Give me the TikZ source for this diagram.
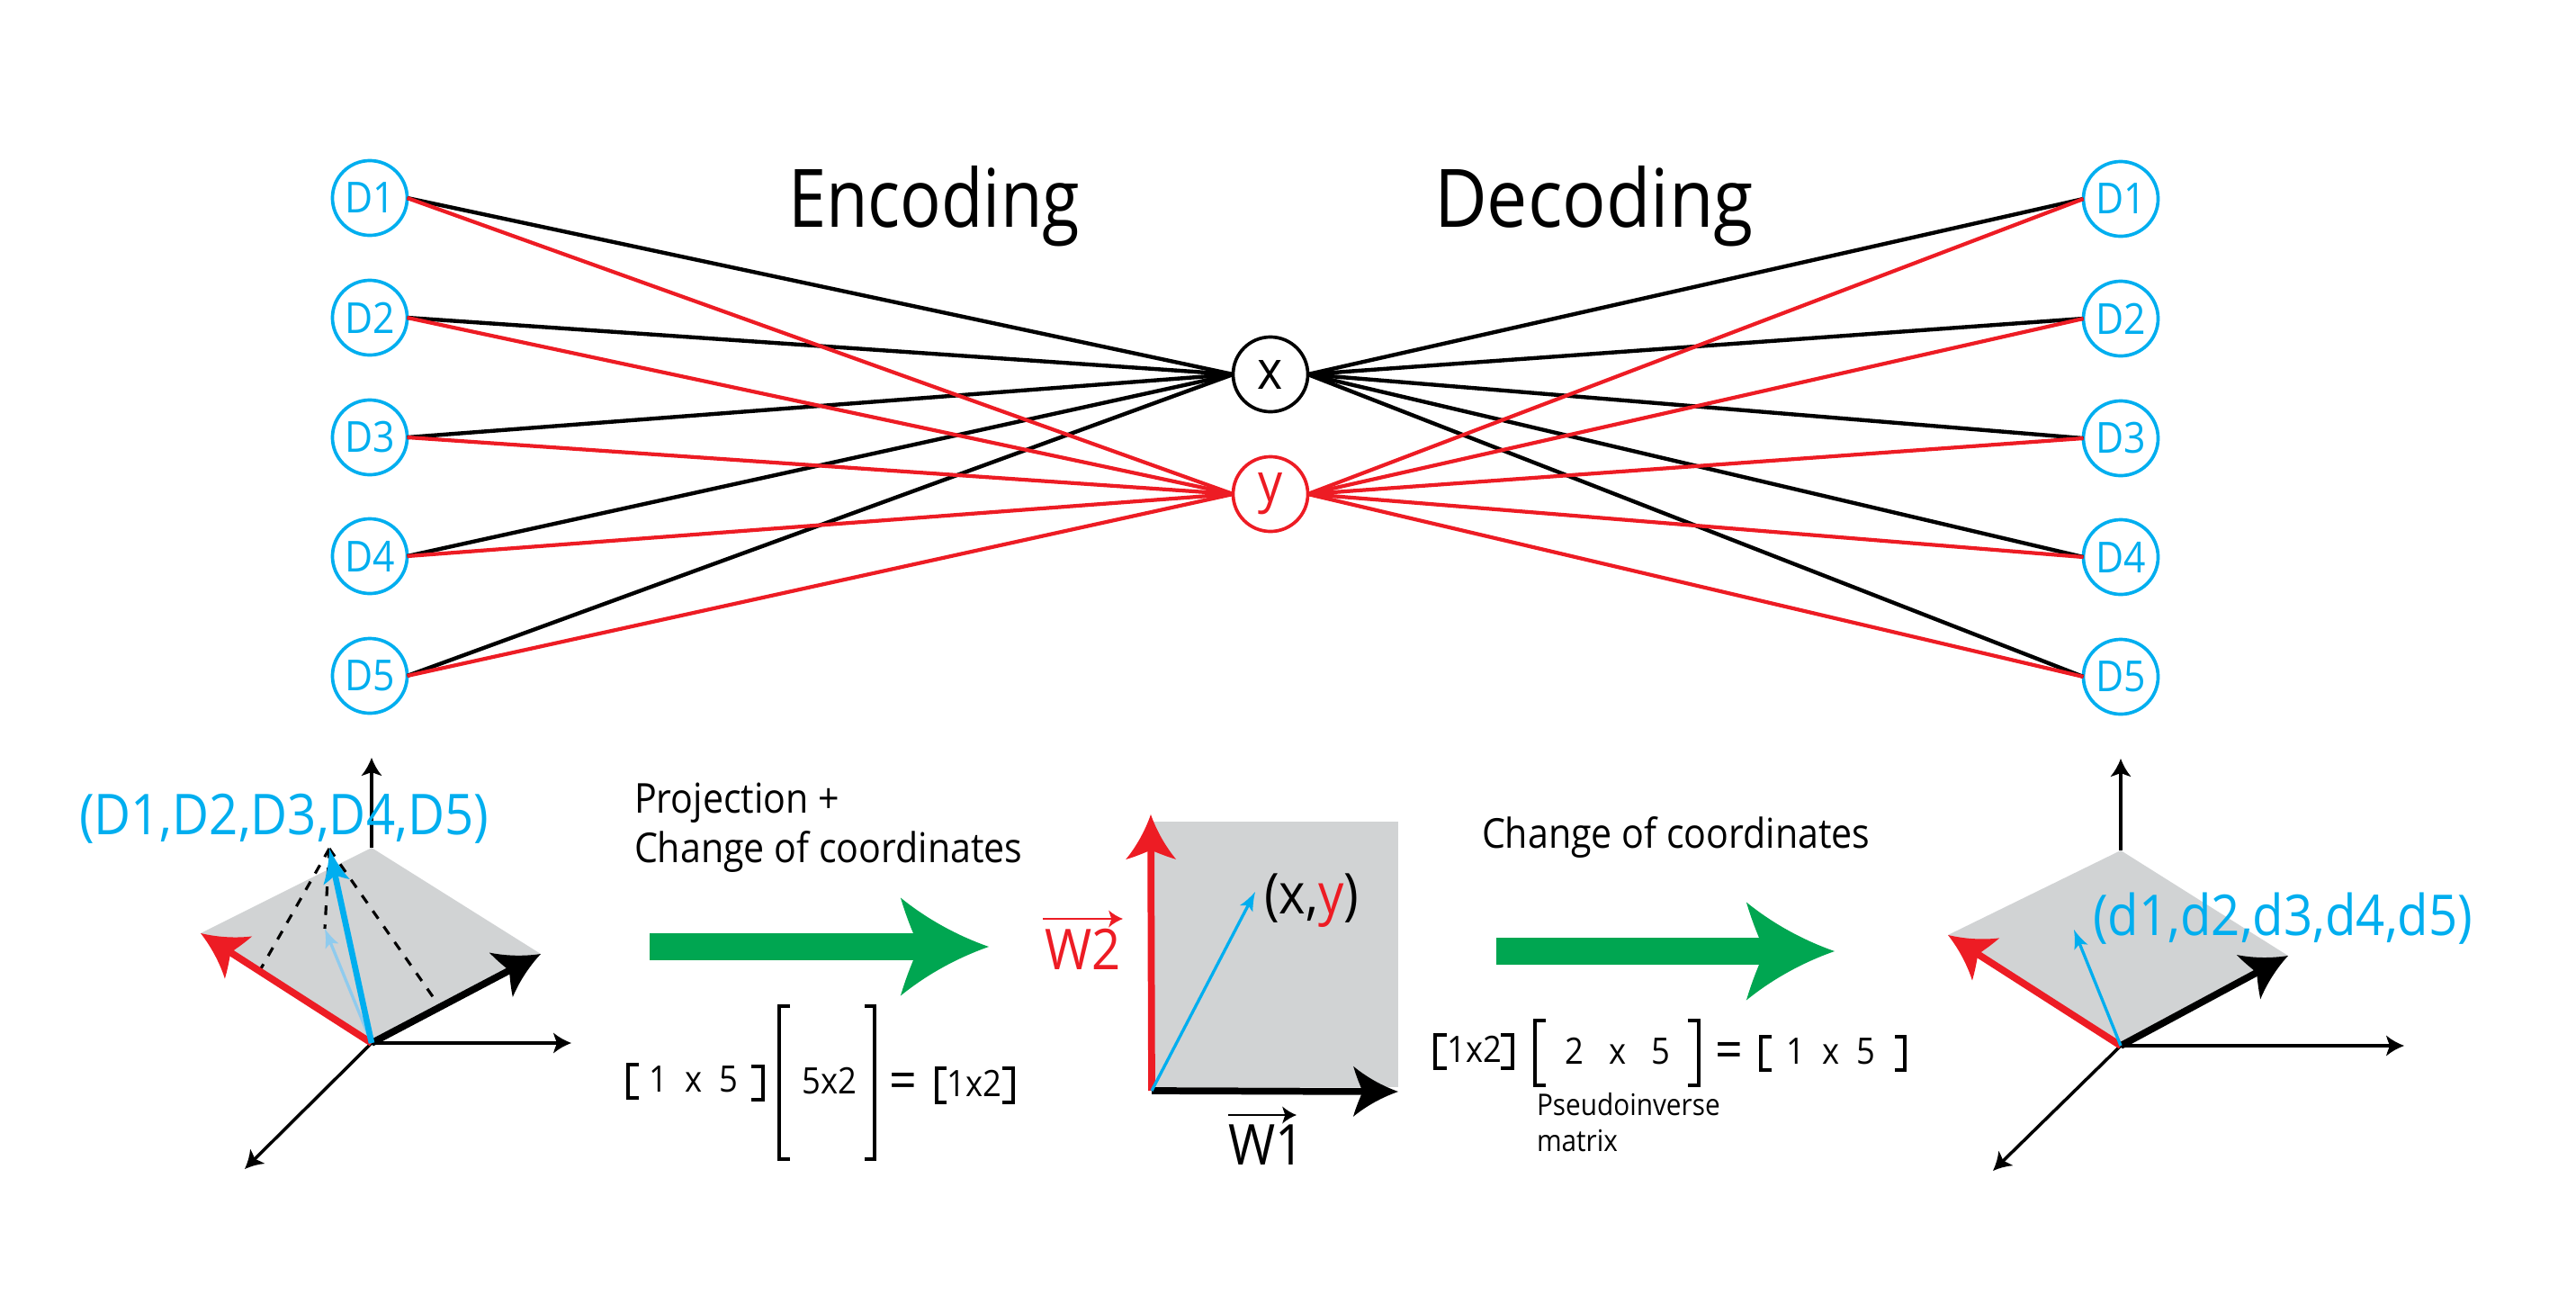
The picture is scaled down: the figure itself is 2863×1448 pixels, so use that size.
\documentclass[tikz,border=0pt]{standalone}
\usepackage{fontspec}
\setmainfont[FakeStretch=0.9]{Open Sans}
\newfontfamily\encfont[FakeStretch=0.845]{Open Sans}
\usetikzlibrary{arrows.meta}
\definecolor{dblue}{HTML}{00AEEF}
\definecolor{lblue}{HTML}{8FCBEE}
\definecolor{wred}{HTML}{ED1C24}
\definecolor{pgray}{HTML}{D1D3D4}
\definecolor{agreen}{HTML}{00A651}
\pgfdeclarearrow{
  name = Swoop,
  setup code = {
    \pgfarrowssettipend{0pt}
    \pgfarrowssetbackend{-\pgfarrowlength}
    \pgfarrowssetlineend{-.7\pgfarrowlength}
    \pgfarrowssetvisualbackend{-.8\pgfarrowlength}
    \pgfarrowshullpoint{-\pgfarrowlength}{.5\pgfarrowwidth}
    \pgfarrowshullpoint{-\pgfarrowlength}{-.5\pgfarrowwidth}
    \pgfarrowssavethe\pgfarrowlength
    \pgfarrowssavethe\pgfarrowwidth
  },
  drawing code = {
    \pgfpathmoveto{\pgfqpoint{0pt}{0pt}}
    \pgfpathcurveto{\pgfqpoint{-.35\pgfarrowlength}{.11\pgfarrowwidth}}{\pgfqpoint{-.7\pgfarrowlength}{.28\pgfarrowwidth}}{\pgfqpoint{-\pgfarrowlength}{.5\pgfarrowwidth}}
    \pgfpathcurveto{\pgfqpoint{-.9\pgfarrowlength}{.2\pgfarrowwidth}}{\pgfqpoint{-.82\pgfarrowlength}{.08\pgfarrowwidth}}{\pgfqpoint{-.8\pgfarrowlength}{0pt}}
    \pgfpathcurveto{\pgfqpoint{-.82\pgfarrowlength}{-.08\pgfarrowwidth}}{\pgfqpoint{-.9\pgfarrowlength}{-.2\pgfarrowwidth}}{\pgfqpoint{-\pgfarrowlength}{-.5\pgfarrowwidth}}
    \pgfpathcurveto{\pgfqpoint{-.7\pgfarrowlength}{-.28\pgfarrowwidth}}{\pgfqpoint{-.35\pgfarrowlength}{-.11\pgfarrowwidth}}{\pgfqpoint{0pt}{0pt}}
    \pgfpathclose
    \pgfusepathqfill
  },
  parameters = {\the\pgfarrowlength,\the\pgfarrowwidth},
  defaults = {length=6pt,width=6pt}
}
\begin{document}
\begin{tikzpicture}[x=0.01cm,y=-0.01cm,
    every node/.style={inner sep=0pt,outer sep=0pt},
    dnode/.style={circle,draw=dblue,line width=1.05pt,minimum size=0.83cm,text=dblue,font=\fontsize{13.5}{15}\selectfont},
    xnode/.style={circle,draw=black,line width=1.05pt,minimum size=0.83cm,font=\fontsize{17}{19}\selectfont},
    ynode/.style={circle,draw=wred,line width=1.05pt,minimum size=0.83cm,text=wred,font=\fontsize{17}{19}\selectfont},
    bk/.style={black,line width=1.25pt},
    rd/.style={wred,line width=1.2pt},
    axis/.style={black,line width=1pt,-{Swoop[length=5.7pt,width=6.5pt]}},
    vec/.style={line width=2.2pt,-{Swoop[length=14.2pt,width=15.9pt]}},
    blarge/.style={dblue,line width=1.9pt,-{Swoop[length=10.8pt,width=8.5pt]}},
    bsmall/.style={line width=.95pt,-{Swoop[length=6pt,width=4.6pt]}},
    over/.style={line width=.6pt,-{Swoop[length=4.5pt,width=5.4pt]}},
    garrow/.style={agreen,line width=8.5pt,-{Swoop[length=27.9pt,width=31pt]}},
    brk/.style={black,line width=.95pt},
    title/.style={anchor=base west,font=\fontsize{25.5}{30}\selectfont},
    big/.style={anchor=base west,font=\fontsize{17.8}{20}\selectfont},
    txt/.style={anchor=base west,font=\fontsize{13}{15}\selectfont},
    mat/.style={anchor=base,font=\fontsize{11.5}{13}\selectfont},
    eqs/.style={anchor=base,font=\fontsize{17}{19}\selectfont},
    small/.style={anchor=base west,font=\fontsize{9.4}{11}\selectfont}]
    \useasboundingbox (0,0) rectangle (2863,1448);

    % network
    \node[dnode] (l1) at (411,220) {D1};
    \node[dnode] (l2) at (411,353) {D2};
    \node[dnode] (l3) at (411,486) {D3};
    \node[dnode] (l4) at (411,618) {D4};
    \node[dnode] (l5) at (411,751) {D5};
    \node[dnode] (r1) at (2357,221) {D1};
    \node[dnode] (r2) at (2357,354) {D2};
    \node[dnode] (r3) at (2357,487) {D3};
    \node[dnode] (r4) at (2357,619) {D4};
    \node[dnode] (r5) at (2357,752) {D5};
    \node[xnode] (x) at (1412,416) {x};
    \node[ynode] (y) at (1412,549) {y};

    \draw[bk] (l1.east) -- (x.west);
    \draw[bk] (l2.east) -- (x.west);
    \draw[bk] (l3.east) -- (x.west);
    \draw[bk] (l4.east) -- (x.west);
    \draw[bk] (l5.east) -- (x.west);
    \draw[bk] (x.east) -- (r1.west);
    \draw[bk] (x.east) -- (r2.west);
    \draw[bk] (x.east) -- (r3.west);
    \draw[bk] (x.east) -- (r4.west);
    \draw[bk] (x.east) -- (r5.west);
    \draw[rd] (l1.east) -- (y.west);
    \draw[rd] (l2.east) -- (y.west);
    \draw[rd] (l3.east) -- (y.west);
    \draw[rd] (l4.east) -- (y.west);
    \draw[rd] (l5.east) -- (y.west);
    \draw[rd] (y.east) -- (r1.west);
    \draw[rd] (y.east) -- (r2.west);
    \draw[rd] (y.east) -- (r3.west);
    \draw[rd] (y.east) -- (r4.west);
    \draw[rd] (y.east) -- (r5.west);

    \node[title] (enc) at (876,252) {\encfont Encoding};
    \node[title] (dec) at (1594,252) {Decoding};

    % left plane
    \coordinate (ao) at (413,1159);
    \coordinate (atop) at (413,942);
    \coordinate (aup) at (413,842);
    \coordinate (aright) at (635,1159);
    \coordinate (adown) at (272,1299);
    \coordinate (ared) at (223,1037);
    \coordinate (ablack) at (601,1060);
    \coordinate (ablue) at (366,943);
    \coordinate (alight) at (361,1032);
    \fill[pgray] (atop) -- (ablack) -- (ao) -- (ared) -- cycle;
    \draw[axis] (atop) -- (aup);
    \draw[axis] (ao) -- (aright);
    \draw[axis] (ao) -- (adown);
    \draw[black,line width=.9pt,dashed] (ablue) -- (289,1078);
    \draw[black,line width=.9pt,dashed] (ablue) -- (487,1116);
    \draw[black,line width=.9pt,dashed] (ablue) -- (alight);
    \draw[vec,wred] (ao) -- (ared);
    \draw[vec,black] (ao) -- (ablack);
    \draw[bsmall,lblue] (ao) -- (alight);
    \draw[blarge] (ao) -- (ablue);
    \node[big,text=dblue] (dbig) at (88,927) {(D1,D2,D3,D4,D5)};

    % projection
    \node[txt] (proj) at (705,903) {Projection +};
    \node[txt] (chg) at (705,958) {Change of coordinates};
    \coordinate (g1a) at (722,1052);
    \coordinate (g1b) at (1099,1052);
    \draw[garrow] (g1a) -- (g1b);
    \draw[brk] (710,1183) -| (698,1220) -- (710,1220);
    \node[mat] (m1) at (771,1213) {1\ \ x\ \ 5};
    \draw[brk] (835,1185) -| (848,1222) -- (835,1222);
    \draw[brk] (878,1118) -| (866,1288) -- (878,1288);
    \node[mat] (m2) at (922,1215) {5x2};
    \draw[brk] (961,1118) -| (972,1288) -- (961,1288);
    \node[eqs] (m3) at (1004,1221) {=};
    \draw[brk] (1052,1187) -| (1041,1225) -- (1052,1225);
    \node[mat] (m4) at (1083,1218) {1x2};
    \draw[brk] (1114,1187) -| (1126,1225) -- (1114,1225);

    % middle plane
    \coordinate (bo) at (1280,1212);
    \coordinate (bred) at (1279,905);
    \coordinate (bblack) at (1554,1213);
    \coordinate (bblue) at (1395,991);
    \fill[pgray] (1282,913) rectangle (1554,1208);
    \draw[vec,wred] (bo) -- (bred);
    \draw[vec,black] (bo) -- (bblack);
    \draw[bsmall,dblue] (bo) -- (bblue);
    \node[big] (xy) at (1405,1015) {(x,{\color{wred}y})};
    \node[big,text=wred] (w2) at (1161,1077) {W2};
    \coordinate (w2a) at (1159,1021);
    \coordinate (w2b) at (1248,1021);
    \draw[over,wred] (w2a) -- (w2b);
    \node[big] (w1) at (1365,1294) {W1};
    \coordinate (w1a) at (1365,1239);
    \coordinate (w1b) at (1441,1239);
    \draw[over,black] (w1a) -- (w1b);

    % change of coordinates
    \node[txt] (chg2) at (1647,942) {Change of coordinates};
    \coordinate (g2a) at (1663,1057);
    \coordinate (g2b) at (2039,1057);
    \draw[garrow] (g2a) -- (g2b);
    \draw[brk] (1608,1150) -| (1595,1187) -- (1608,1187);
    \node[mat] (n1) at (1639,1180) {1x2};
    \draw[brk] (1668,1150) -| (1681,1187) -- (1668,1187);
    \draw[brk] (1718,1134) -| (1706,1206) -- (1718,1206);
    \node[mat] (n2) at (1798,1182) {2\ \ \ x\ \ \ 5};
    \draw[brk] (1876,1134) -| (1888,1206) -- (1876,1206);
    \node[eqs] (n3) at (1922,1187) {=};
    \draw[brk] (1969,1152) -| (1957,1189) -- (1969,1189);
    \node[mat] (n4) at (2035,1182) {1\ \ x\ \ 5};
    \draw[brk] (2106,1152) -| (2117,1189) -- (2106,1189);
    \node[small] (ps) at (1708,1239) {Pseudoinverse};
    \node[small] (mx) at (1708,1279) {matrix};

    % right plane
    \coordinate (co) at (2357,1162);
    \coordinate (ctop) at (2357,945);
    \coordinate (cup) at (2357,843);
    \coordinate (cright) at (2672,1162);
    \coordinate (cdown) at (2215,1301);
    \coordinate (cred) at (2165,1039);
    \coordinate (cblack) at (2543,1062);
    \coordinate (cblue) at (2305,1033);
    \fill[pgray] (ctop) -- (cblack) -- (co) -- (cred) -- cycle;
    \draw[axis] (ctop) -- (cup);
    \draw[axis] (co) -- (cright);
    \draw[axis] (co) -- (cdown);
    \draw[vec,wred] (co) -- (cred);
    \draw[vec,black] (co) -- (cblack);
    \draw[bsmall,dblue] (co) -- (cblue);
    \node[big,text=dblue] (dsmall) at (2326,1039) {(d1,d2,d3,d4,d5)};
\end{tikzpicture}
\end{document}
